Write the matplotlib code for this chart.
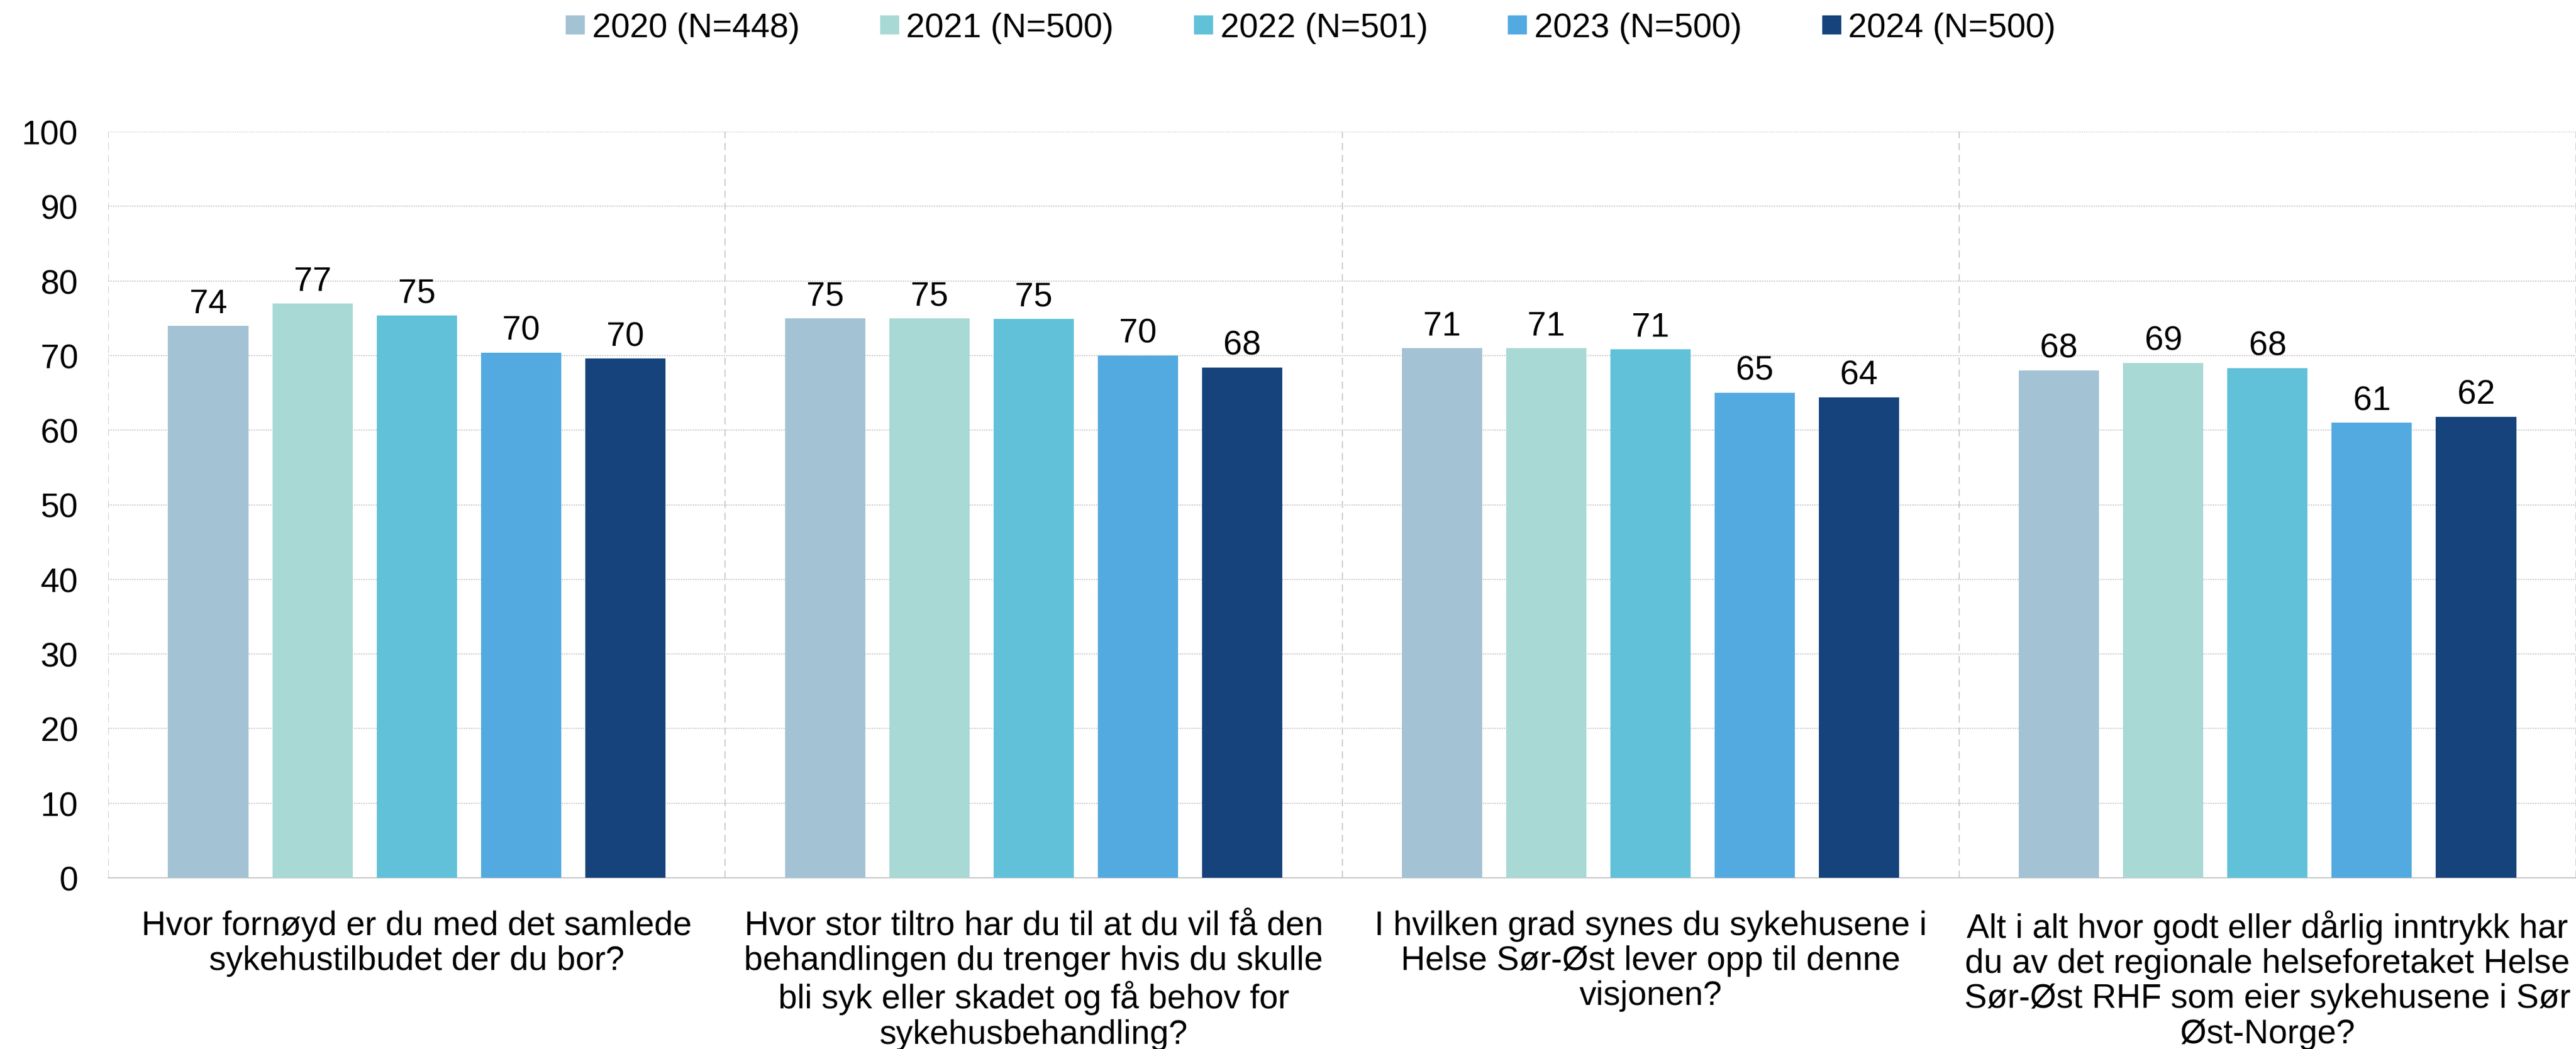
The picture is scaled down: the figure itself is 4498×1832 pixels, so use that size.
import matplotlib
matplotlib.use("Agg")
import matplotlib.pyplot as plt
from matplotlib.lines import Line2D
import numpy as np

plt.rcParams['font.family'] = ['Liberation Sans', 'DejaVu Sans']

categories = [
    "Hvor fornøyd er du med det samlede\nsykehustilbudet der du bor?",
    "Hvor stor tiltro har du til at du vil få den\nbehandlingen du trenger hvis du skulle\nbli syk eller skadet og få behov for\nsykehusbehandling?",
    "I hvilken grad synes du sykehusene i\nHelse Sør-Øst lever opp til denne\nvisjonen?",
    "Alt i alt hvor godt eller dårlig inntrykk har\ndu av det regionale helseforetaket Helse\nSør-Øst RHF som eier sykehusene i Sør\nØst-Norge?",
]
series = ["2020 (N=448)", "2021 (N=500)", "2022 (N=501)", "2023 (N=500)", "2024 (N=500)"]
v2020 = [74.0, 75.0, 71.0, 68.0]
v2021 = [77.0, 75.0, 71.0, 69.0]
v2022 = [75.4, 74.9, 70.8, 68.3]
v2023 = [70.4, 70.0, 65.0, 61.0]
v2024 = [69.6, 68.4, 64.4, 61.8]
values = [v2020, v2021, v2022, v2023, v2024]
colors = ["#A3C2D3", "#A8D9D4", "#61C1D9", "#53AAE0", "#17437C"]

fs = 42.5

fig = plt.figure(figsize=(44.98, 18.33), dpi=100)
ax = fig.add_axes([189 / 4498, 1 - 1534 / 1833, 1 - 189 / 4498, (1534 - 231) / 1833])

x = np.arange(len(categories))
width = 0.13
step = 0.169
for i, (vals, col) in enumerate(zip(values, colors)):
    bars = ax.bar(x + (i - 2) * step, vals, width, color=col, zorder=3)
    ax.bar_label(bars, fmt='%.0f', padding=8, fontsize=fs)

ax.set_xlim(-0.5, 3.5)
ax.set_ylim(0, 100)
ax.set_yticks(range(0, 101, 10))
ax.tick_params(axis='y', labelsize=fs, length=0, pad=38)
ax.set_xticks(x)
ax.set_xticklabels(categories, fontsize=fs, linespacing=1.15)
ax.tick_params(axis='x', length=0, pad=40)

ax.grid(axis='y', color='#c8c8c8', linestyle=(0, (1, 1)), linewidth=1.5, zorder=0)
for b in np.arange(-0.5, 3.6, 1.0):
    ax.axvline(b, color='#cccccc', linestyle=(0, (6, 4)), linewidth=1.5, zorder=0)
for s in ['top', 'right', 'left']:
    ax.spines[s].set_visible(False)
ax.spines['bottom'].set_color('#c8c8c8')
ax.spines['bottom'].set_linestyle((0, (1, 1)))
ax.spines['bottom'].set_linewidth(1.5)

handles = [Line2D([], [], marker='s', linestyle='none', markersize=23,
                  markerfacecolor=c, markeredgecolor=c) for c in colors]
fig.legend(handles, series, loc='center', bbox_to_anchor=(0.5087, 0.973), ncol=5,
           frameon=False, fontsize=fs, handlelength=0.6, handletextpad=0.2,
           columnspacing=2.35)

fig.savefig("out.png", dpi=100)
